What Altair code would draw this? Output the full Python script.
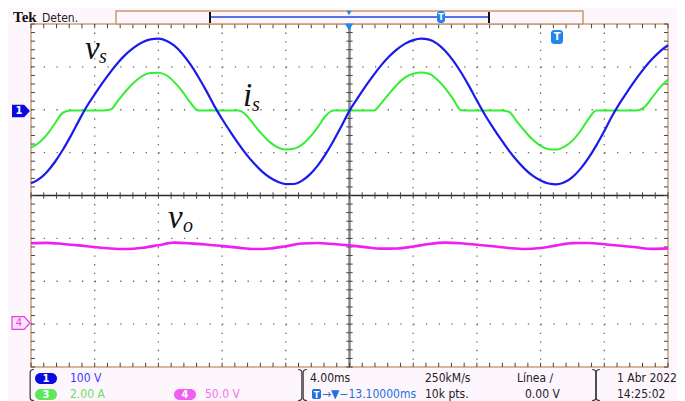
import altair as alt
import pandas as pd

# ---------------- data read from the scope screen ----------------
# sample times (ms), 4.00 ms/div, screen spans -20 .. +20 ms
t_ms = [-20.0, -19.5, -19.0, -18.5, -18.0, -17.5, -17.0, -16.5, -16.0, -15.5,
        -15.0, -14.5, -14.0, -13.5, -13.0, -12.5, -12.0, -11.5, -11.0, -10.5,
        -10.0, -9.5, -9.0, -8.5, -8.0, -7.5, -7.0, -6.5, -6.0, -5.5,
        -5.0, -4.5, -4.0, -3.5, -3.0, -2.5, -2.0, -1.5, -1.0, -0.5,
        0.0, 0.5, 1.0, 1.5, 2.0, 2.5, 3.0, 3.5, 4.0, 4.5,
        5.0, 5.5, 6.0, 6.5, 7.0, 7.5, 8.0, 8.5, 9.0, 9.5,
        10.0, 10.5, 11.0, 11.5, 12.0, 12.5, 13.0, 13.5, 14.0, 14.5,
        15.0, 15.5, 16.0, 16.5, 17.0, 17.5, 18.0, 18.5, 19.0, 19.5, 20.0]

# CH1 source voltage vs (V), 100 V/div
vs_V = [-169.6, -159.8, -143.0, -119.9, -91.4, -59.0, -23.9, 9.6, 37.9, 65.2,
        90.5, 113.3, 132.8, 148.3, 159.5, 166.2, 168.0, 163.2, 151.4, 132.8,
        108.4, 79.1, 46.6, 11.7, -19.5, -48.2, -75.6, -100.8, -123.0, -141.6,
        -156.1, -166.1, -171.3, -171.2, -163.9, -149.4, -128.3, -101.4, -70.2, -35.7,
        0.0, 28.5, 56.3, 82.3, 106.0, 126.6, 143.5, 156.3, 164.5, 167.9,
        165.6, 156.1, 139.6, 117.1, 89.4, 57.6, 23.4, -9.8, -38.9, -66.7,
        -92.7, -115.9, -135.9, -151.9, -163.2, -170.1, -172.0, -167.2, -155.0, -135.9,
        -110.9, -81.0, -47.6, -12.0, 19.1, 47.2, 73.9, 98.4, 120.1, 138.3, 152.5]

# CH3 source current is (A), 2.00 A/div
is_A = [-1.73, -1.50, -1.12, -0.60, -0.10, 0.0, 0.0, 0.0, 0.0, 0.0,
        0.05, 0.50, 0.95, 1.33, 1.62, 1.75, 1.77, 1.65, 1.33, 0.90,
        0.38, 0.0, 0.0, 0.0, 0.0, 0.0, 0.0, -0.20, -0.65, -1.10,
        -1.47, -1.72, -1.81, -1.78, -1.60, -1.25, -0.78, -0.25, 0.0, 0.0,
        0.0, 0.0, 0.0, 0.0, 0.35, 0.80, 1.22, 1.55, 1.72, 1.78,
        1.72, 1.45, 1.05, 0.55, 0.02, 0.0, 0.0, 0.0, 0.0, 0.0,
        -0.05, -0.50, -0.95, -1.35, -1.65, -1.80, -1.82, -1.68, -1.40, -0.95,
        -0.40, 0.0, 0.0, 0.0, 0.0, 0.0, 0.0, 0.15, 0.60, 1.08, 1.45]

# CH4 output voltage vo (V), 50.0 V/div
t_vo_ms = [-20, -19, -18, -17, -16, -15, -14, -13, -12, -11,
           -10, -9, -8, -7, -6, -5, -4, -3, -2, -1,
           0, 1, 2, 3, 4, 5, 6, 7, 8, 9,
           10, 11, 12, 13, 14, 15, 16, 17, 18, 19, 20]
vo_V = [94.4, 94.8, 93.5, 91.8, 89.8, 88.2, 87.6, 89.0, 92.0, 95.0,
        94.2, 92.8, 91.0, 89.2, 87.6, 88.2, 90.8, 94.0, 94.6, 93.4,
        91.8, 89.8, 88.0, 88.2, 90.5, 93.5, 95.0, 94.3, 92.6, 90.8,
        88.8, 87.6, 88.8, 91.8, 94.5, 94.6, 93.2, 91.4, 89.6, 87.8, 88.3]

# channel settings (position in div, units per div)
ch1_pos, ch1_scale = 1.98, 100.0
ch3_pos, ch3_scale = 1.98, 2.0
ch4_pos, ch4_scale = -3.0, 50.0

# graticule
x_major = [-16, -12, -8, -4, 4, 8, 12, 16]
y_major = [-3, -2, -1, 1, 2, 3]
x_minor = [round(-20 + 0.8 * k, 2) for k in range(51)]
y_minor = [round(-4 + 0.2 * k, 2) for k in range(41)]

# ---------------- build chart ----------------
W, H = 637, 343
UI = "DejaVu Sans Condensed, DejaVu Sans, sans-serif"
SERIF = "Liberation Serif, Times New Roman, serif"

xs = alt.Scale(domain=[-20, 20], nice=False, zero=False)
ys = alt.Scale(domain=[-4, 4], nice=False, zero=False)

df = pd.DataFrame({"t": t_ms, "vs": vs_V, "is": is_A})
df["vs_div"] = ch1_pos + df["vs"] / ch1_scale
df["is_div"] = ch3_pos + df["is"] / ch3_scale
dfo = pd.DataFrame({"t": t_vo_ms, "vo": vo_V})
dfo["vo_div"] = ch4_pos + dfo["vo"] / ch4_scale

one = pd.DataFrame({"k": [0]})

layers = []

# dotted major grid
layers.append(alt.Chart(pd.DataFrame({"x": x_major})).mark_rule(
    color="#666", strokeWidth=1.3, strokeDash=[1.3, 7.275]).encode(
    x=alt.X("x:Q", scale=xs, axis=None),
    y=alt.YDatum(4, scale=ys, axis=None), y2=alt.Y2Datum(-4)))
layers.append(alt.Chart(pd.DataFrame({"y": y_major})).mark_rule(
    color="#666", strokeWidth=1.3, strokeDash=[1.3, 11.44]).encode(
    y=alt.Y("y:Q", scale=ys, axis=None),
    x=alt.XDatum(-20, scale=xs, axis=None), x2=alt.X2Datum(20)))

# center lines
layers.append(alt.Chart(one).mark_rule(color="#8c8c8c", strokeWidth=2.6).encode(
    x=alt.XDatum(0, scale=xs, axis=None),
    y=alt.YDatum(4, scale=ys, axis=None), y2=alt.Y2Datum(-4)))
layers.append(alt.Chart(one).mark_rule(color="#2a2a2a", strokeWidth=1.5).encode(
    y=alt.YDatum(0, scale=ys, axis=None),
    x=alt.XDatum(-20, scale=xs, axis=None), x2=alt.X2Datum(20)))

# minor ticks on edges and center lines
xm = pd.DataFrame({"x": x_minor})
ym = pd.DataFrame({"y": y_minor})
for a, b in [(4, 3.9), (-3.9, -4), (0.075, -0.075)]:
    layers.append(alt.Chart(xm).mark_rule(color="#444", strokeWidth=1).encode(
        x=alt.X("x:Q", scale=xs, axis=None),
        y=alt.YDatum(a, scale=ys, axis=None), y2=alt.Y2Datum(b)))
for a, b in [(-20, -19.75), (19.75, 20), (-0.2, 0.2)]:
    layers.append(alt.Chart(ym).mark_rule(color="#444", strokeWidth=1).encode(
        y=alt.Y("y:Q", scale=ys, axis=None),
        x=alt.XDatum(a, scale=xs, axis=None), x2=alt.X2Datum(b)))

# traces
layers.append(alt.Chart(dfo).mark_line(color="#f01ef0", strokeWidth=2.6, interpolate="monotone").encode(
    x=alt.X("t:Q", scale=xs, axis=None), y=alt.Y("vo_div:Q", scale=ys, axis=None)))
layers.append(alt.Chart(df).mark_line(color="#33ee33", strokeWidth=2, interpolate="monotone").encode(
    x=alt.X("t:Q", scale=xs, axis=None), y=alt.Y("is_div:Q", scale=ys, axis=None)))
layers.append(alt.Chart(df).mark_line(color="#1a1aee", strokeWidth=2.2, interpolate="monotone").encode(
    x=alt.X("t:Q", scale=xs, axis=None), y=alt.Y("vs_div:Q", scale=ys, axis=None)))


def txt(s, x, y, size=12, color="#222", font=UI, weight="normal", style="normal",
        align="left", baseline="middle"):
    return alt.Chart(one).mark_text(text=s, fontSize=size, color=color, font=font,
                                    fontWeight=weight, fontStyle=style, align=align,
                                    baseline=baseline).encode(x=alt.value(x), y=alt.value(y))


def box(x1, x2, y1, y2, fill, stroke=None, r=0, sw=1.0):
    kw = dict(fill=fill, cornerRadius=r)
    if stroke:
        kw.update(stroke=stroke, strokeWidth=sw)
    return alt.Chart(one).mark_rect(**kw).encode(
        x=alt.value(x1), x2=alt.value(x2), y=alt.value(y1), y2=alt.value(y2))


def rule(x1, x2, y1, y2, color, sw=1.0):
    return alt.Chart(one).mark_rule(color=color, strokeWidth=sw).encode(
        x=alt.value(x1), x2=alt.value(x2), y=alt.value(y1), y2=alt.value(y2))


def sym(shape, x, y, size, fill=None, stroke=None, sw=1.0):
    kw = dict(shape=shape, size=size, opacity=1)
    if fill:
        kw.update(filled=True, fill=fill)
    else:
        kw.update(filled=False)
    if stroke:
        kw.update(stroke=stroke, strokeWidth=sw)
    return alt.Chart(one).mark_point(**kw).encode(x=alt.value(x), y=alt.value(y))


# trace labels
layers += [
    txt("v", 54, 35, size=33, color="#111", font=SERIF, style="italic", baseline="alphabetic"),
    txt("s", 68, 39, size=20, color="#111", font=SERIF, style="italic", baseline="alphabetic"),
    txt("i", 212, 82, size=33, color="#111", font=SERIF, style="italic", baseline="alphabetic"),
    txt("s", 221, 87, size=20, color="#111", font=SERIF, style="italic", baseline="alphabetic"),
    txt("v", 137, 204, size=33, color="#111", font=SERIF, style="italic", baseline="alphabetic"),
    txt("o", 152, 208, size=20, color="#111", font=SERIF, style="italic", baseline="alphabetic"),
]

# top status bar
layers += [
    txt("Tek", -18, -2, size=15, color="#111", font=SERIF, weight="bold", baseline="alphabetic"),
    txt("Deten.", 11, -2, size=12, color="#222", baseline="alphabetic"),
    box(85, 552, -13, 0, "#fdf6fd", stroke="#c49a74", sw=1.5),
    rule(179, 458, -7, -7, "#2244dd", 1.5),
    rule(179, 179, -12, -1, "#111", 2),
    rule(458, 458, -12, -1, "#111", 2),
    sym("triangle-down", 318, -11, 28, fill="#1f86f0"),
    box(406, 414, -13, -1, "#1f86f0", r=3),
    txt("T", 410, -7, size=9, color="white", weight="bold", align="center"),
    sym("triangle-down", 318, 3, 70, fill="#1f86f0"),
]

# trigger marker inside screen
layers += [
    box(520, 532, 6, 20, "#1f86f0", r=3),
    txt("T", 526, 13, size=11, color="white", weight="bold", align="center"),
]

# channel ground markers on left edge
PENT = "M-1,-0.7L0.35,-0.7L1,0L0.35,0.7L-1,0.7Z"
layers += [
    sym(PENT, -10, 87, 324, fill="#0a0ae0"),
    txt("1", -12, 87, size=11, color="white", weight="bold", align="center"),
    sym(PENT, -10, 299, 324, fill="#fde6fd", stroke="#e838e8", sw=1.2),
    txt("4", -12, 299, size=11, color="#e838e8", align="center"),
]

# bottom status panel
LB = "M0.12,-1Q-0.12,-1-0.12,-0.8L-0.12,0.8Q-0.12,1 0.12,1"
RB = "M-0.12,-1Q0.12,-1 0.12,-0.8L0.12,0.8Q0.12,1-0.12,1"
layers += [
    sym(LB, 1, 361, 961, stroke="#333", sw=1.2),
    sym(RB, 269, 361, 961, stroke="#333", sw=1.2),
    sym(LB, 274, 361, 961, stroke="#333", sw=1.2),
    sym(RB, 563, 361, 961, stroke="#333", sw=1.2),
    sym(LB, 567, 361, 961, stroke="#333", sw=1.2),
    box(4, 26, 349, 360, "#0a0ae0", r=5.5),
    txt("1", 15, 354.5, size=11, color="white", weight="bold", align="center"),
    txt("100 V", 39, 354, color="#3a3aff"),
    box(4, 26, 365, 376, "#5ee85e", r=5.5),
    txt("3", 15, 370.5, size=11, color="white", weight="bold", align="center"),
    txt("2.00 A", 39, 370, color="#66e066"),
    box(143, 165, 365, 376, "#f060f0", r=5.5),
    txt("4", 154, 370.5, size=11, color="white", weight="bold", align="center"),
    txt("50.0 V", 174, 370, color="#f070f0"),
    txt("4.00ms", 279, 354),
    txt("250kM/s", 394, 354),
    txt("Línea ∕", 486, 354),
    box(281, 290, 365, 375, "#1f6fe0", r=2),
    txt("T", 285.5, 370.5, size=9, color="white", weight="bold", align="center"),
    txt("→▼−13.10000ms", 291, 370, color="#1e6fe0"),
    txt("10k pts.", 394, 370),
    txt("0.00 V", 494, 370),
    txt("1 Abr  2022", 586, 354),
    txt("14:25:02", 586, 370),
]

chart = alt.layer(*layers).properties(
    width=W, height=H,
    padding={"left": 23, "top": 16, "right": 9, "bottom": 34},
    autosize=alt.AutoSizeParams(type="none"),
    background="#fdf7fd",
).configure_view(fill="white", stroke="#c8a07c", strokeWidth=1.5)

chart.save("out.html", embed_options={"renderer": "svg", "actions": False})
